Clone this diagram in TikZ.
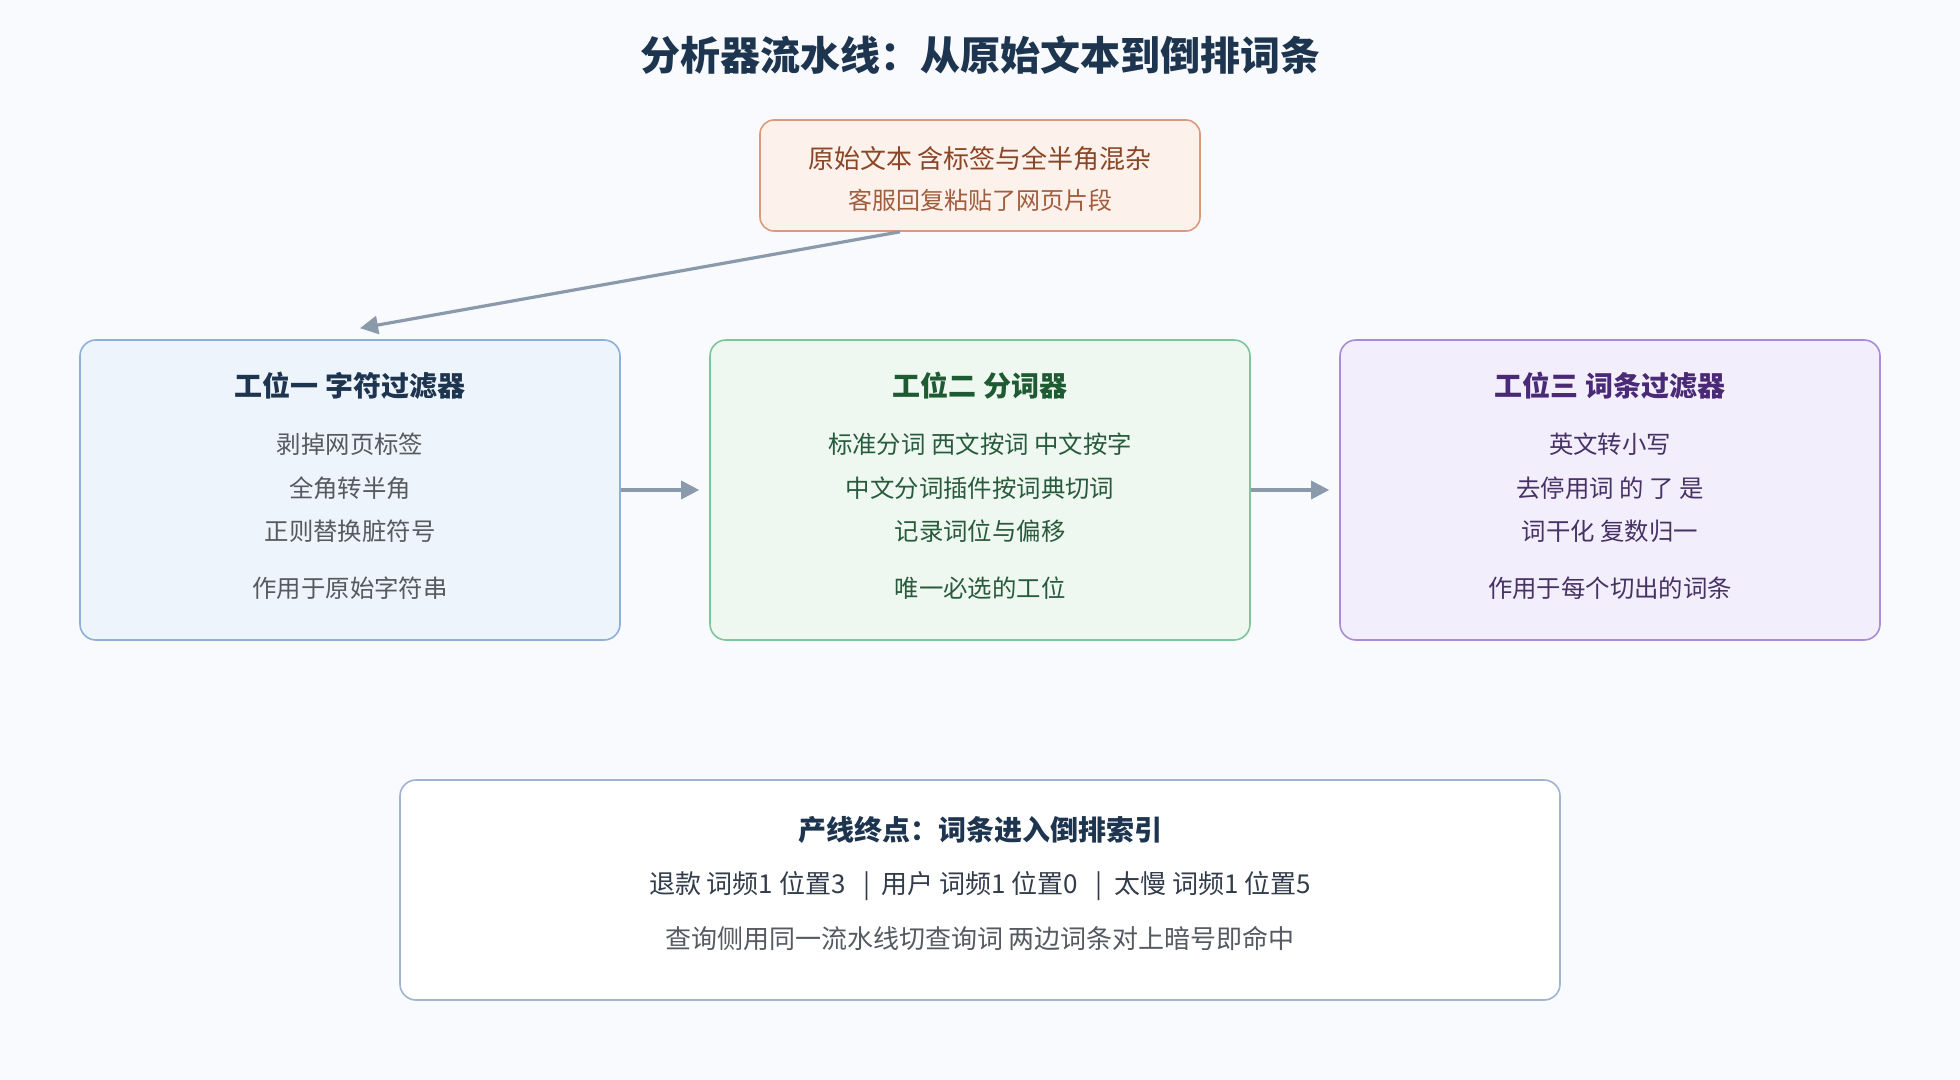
\documentclass[tikz,border=0pt]{standalone}
\usepackage{fontspec}
\setmainfont{Noto Sans CJK SC}
\usetikzlibrary{
    arrows.meta,
    positioning
}
\definecolor{bgc}{HTML}{F8FAFD}
\definecolor{navy}{HTML}{1E3550}
\definecolor{flow}{HTML}{8A9AAB}
\definecolor{bodyc}{HTML}{555A60}
\tikzset{
    stage/.style={draw, rounded corners=8pt, line width=0.8pt, minimum width=270pt, minimum height=150pt},
    flowarrow/.style={draw=flow, line width=1.6pt, -{Triangle[length=9pt,width=9pt]}},
    txt/.style={font=\fontsize{12.2}{14}\selectfont, text=bodyc},
    head/.style={font=\fontsize{14}{16}\selectfont\bfseries}
}

\begin{document}
\begin{tikzpicture}[x=0.5pt,y=-0.5pt]
    \fill[bgc] (0,0) rectangle (1960,1080);
    \useasboundingbox (0,0) rectangle (1960,1080);

    \node[font=\fontsize{20}{22}\selectfont\bfseries, text=navy] (title) at (980,55) {分析器流水线：从原始文本到倒排词条};

    % source text
    \node[draw={rgb,255:red,219;green,154;blue,122}, fill={rgb,255:red,253;green,242;blue,235}, rounded corners=7pt,
        line width=0.8pt, minimum width=220pt, minimum height=55.5pt] (src) at (980,175.5) {};
    \node[font=\fontsize{13}{15}\selectfont, text={rgb,255:red,138;green,70;blue,38}] at (980,159) {原始文本 含标签与全半角混杂};
    \node[font=\fontsize{12}{14}\selectfont, text={rgb,255:red,160;green,92;blue,60}] at (980,200) {客服回复粘贴了网页片段};

    % three stations
    \node[stage, draw={rgb,255:red,141;green,175;blue,216}, fill={rgb,255:red,238;green,244;blue,252}] (one) at (350,490) {};
    \node[stage, draw={rgb,255:red,124;green,199;blue,154}, fill={rgb,255:red,238;green,248;blue,240}] (two) at (980,490) {};
    \node[stage, draw={rgb,255:red,169;green,139;blue,216}, fill={rgb,255:red,243;green,238;blue,251}] (three) at (1610,490) {};

    \node[head, text=navy] at (350,386) {工位一 字符过滤器};
    \node[txt] at (350,444) {剥掉网页标签};
    \node[txt] at (350,488) {全角转半角};
    \node[txt] at (350,531) {正则替换脏符号};
    \node[txt] at (350,588) {作用于原始字符串};

    \node[head, text={rgb,255:red,30;green,90;blue,50}] at (980,386) {工位二 分词器};
    \node[txt, text={rgb,255:red,40;green,90;blue,60}] at (980,444) {标准分词 西文按词 中文按字};
    \node[txt, text={rgb,255:red,40;green,90;blue,60}] at (980,488) {中文分词插件按词典切词};
    \node[txt, text={rgb,255:red,40;green,90;blue,60}] at (980,531) {记录词位与偏移};
    \node[txt, text={rgb,255:red,40;green,90;blue,60}] at (980,588) {唯一必选的工位};

    \node[head, text={rgb,255:red,74;green,42;blue,119}] at (1610,386) {工位三 词条过滤器};
    \node[txt, text={rgb,255:red,70;green,50;blue,100}] at (1610,444) {英文转小写};
    \node[txt, text={rgb,255:red,70;green,50;blue,100}] at (1610,488) {去停用词 的 了 是};
    \node[txt, text={rgb,255:red,70;green,50;blue,100}] at (1610,531) {词干化 复数归一};
    \node[txt, text={rgb,255:red,70;green,50;blue,100}] at (1610,588) {作用于每个切出的词条};

    % end of line
    \node[draw={rgb,255:red,160;green,180;blue,210}, fill=white, rounded corners=8pt, line width=0.8pt,
        minimum width=580pt, minimum height=110pt] (sink) at (980,890) {};
    \node[head, text=navy] at (980,830) {产线终点：词条进入倒排索引};
    \node[txt, font=\fontsize{13}{15}\selectfont, text={rgb,255:red,50;green,60;blue,75}] at (980,886) {退款 词频1 位置3 \ \ |\ \ 用户 词频1 位置0 \ \ |\ \ 太慢 词频1 位置5};
    \node[txt, font=\fontsize{13}{15}\selectfont] at (980,939) {查询侧用同一流水线切查询词 两边词条对上暗号即命中};

    % connectors
    \draw[flowarrow] ([xshift=-40pt]src.south) -- ([xshift=5pt,yshift=5.5pt]one.north);
    \draw[flowarrow] (one.east) -- ([xshift=-5pt]two.west);
    \draw[flowarrow] (two.east) -- ([xshift=-5pt]three.west);
\end{tikzpicture}
\end{document}
